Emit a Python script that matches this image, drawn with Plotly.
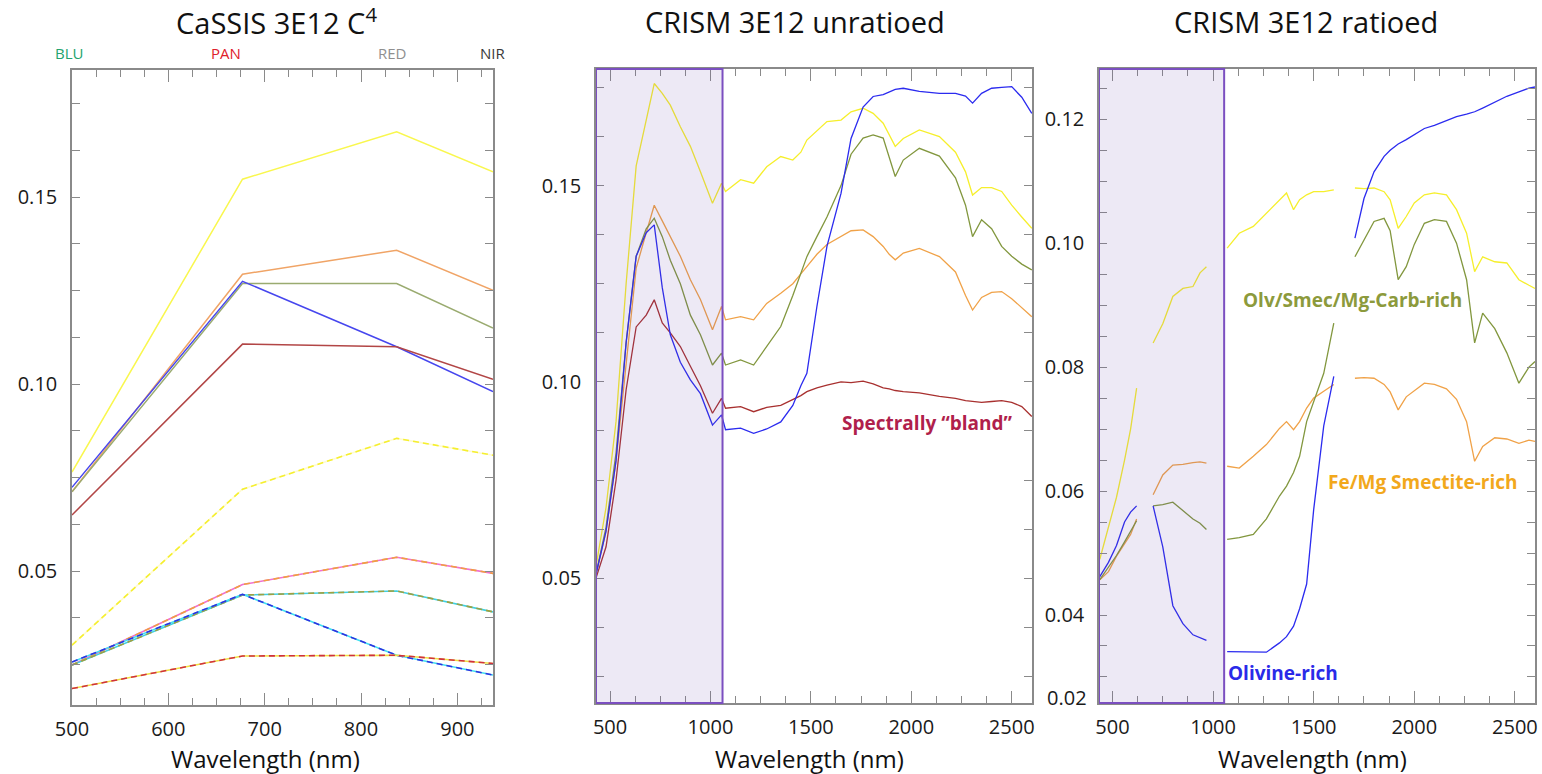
import plotly.graph_objects as go

# ---------------- Left panel: CaSSIS 4-band spectra ----------------
CASSIS_WL = [500, 677, 837, 937]
BAND_LABELS = ["BLU", "PAN", "RED", "NIR"]
BAND_LABEL_COLORS = ["#23a36e", "#e0202a", "#8f8f8f", "#3a3a3a"]
BAND_LABEL_PX = [69, 226, 392, 493]

C_YEL = [0.0765, 0.1548, 0.1675, 0.1568]
C_ORA = [0.0712, 0.1294, 0.1358, 0.1251]
C_OLV = [0.0712, 0.1269, 0.1269, 0.1150]
C_BLU = [0.0724, 0.1275, 0.1100, 0.0980]
C_RED = [0.0650, 0.1107, 0.1100, 0.1013]

D_YEL = [0.0302, 0.0719, 0.0855, 0.0810]
D_ORA = [0.0249, 0.0464, 0.0537, 0.0494]
D_OLV = [0.0249, 0.0436, 0.0447, 0.0391]
D_BLU = [0.0257, 0.0438, 0.0275, 0.0222]
D_RED = [0.0186, 0.0273, 0.0275, 0.0253]

# ---------------- Middle panel: CRISM unratioed ----------------
W_MID = [430, 480, 530, 580, 630, 680, 720, 760, 800, 850,
         900, 950, 1010, 1055, 1075, 1150, 1215, 1280, 1350, 1410,
         1450, 1480, 1530, 1580, 1650, 1700, 1760, 1810, 1860, 1890,
         1920, 1960, 2040, 2140, 2220, 2270, 2305, 2350, 2400, 2450,
         2500, 2550, 2600]
U_YEL = [0.053, 0.068, 0.090, 0.125, 0.155, 0.167, 0.176, 0.1735, 0.1705, 0.165,
         0.160, 0.1535, 0.1455, 0.1506, 0.1485, 0.1515, 0.1506, 0.1548, 0.1574, 0.1565,
         0.1585, 0.1616, 0.1640, 0.1663, 0.1667, 0.1688, 0.1697, 0.1684, 0.1659, 0.1630,
         0.1600, 0.1620, 0.1642, 0.1625, 0.1585, 0.1535, 0.1476, 0.1495, 0.1495, 0.1485,
         0.1450, 0.1420, 0.1391]
U_ORA = [0.051, 0.062, 0.080, 0.105, 0.129, 0.138, 0.145, 0.141, 0.137, 0.132,
         0.126, 0.121, 0.1133, 0.1192, 0.1158, 0.1166, 0.1158, 0.1200, 0.1226, 0.1250,
         0.1275, 0.1294, 0.1325, 0.1350, 0.1370, 0.1385, 0.1387, 0.1370, 0.1345, 0.1325,
         0.1311, 0.1328, 0.1340, 0.1319, 0.1280, 0.1220, 0.1183, 0.1215, 0.1228, 0.1230,
         0.1212, 0.1190, 0.1166]
U_OLV = [0.051, 0.063, 0.082, 0.110, 0.132, 0.139, 0.1417, 0.137, 0.131, 0.125,
         0.117, 0.112, 0.1043, 0.1073, 0.1043, 0.1056, 0.1043, 0.1090, 0.1141, 0.1220,
         0.1275, 0.1319, 0.1370, 0.1420, 0.1500, 0.1580, 0.1621, 0.1629, 0.1621, 0.1570,
         0.1523, 0.1565, 0.1595, 0.1575, 0.1520, 0.1450, 0.1370, 0.1413, 0.1390, 0.1345,
         0.1320, 0.1300, 0.1285]
U_BLU = [0.051, 0.062, 0.080, 0.110, 0.132, 0.138, 0.140, 0.124, 0.112, 0.105,
         0.1005, 0.097, 0.0890, 0.0916, 0.0878, 0.0882, 0.0869, 0.0880, 0.0898, 0.0940,
         0.0990, 0.1022, 0.1192, 0.1345, 0.1480, 0.1620, 0.1700, 0.1727, 0.1732, 0.1738,
         0.1745, 0.1748, 0.1740, 0.1735, 0.1735, 0.1728, 0.1710, 0.1735, 0.1748, 0.1750,
         0.1752, 0.1725, 0.1684]
U_RED = [0.050, 0.058, 0.075, 0.098, 0.114, 0.117, 0.1209, 0.1150, 0.1125, 0.109,
         0.104, 0.099, 0.0920, 0.0958, 0.0933, 0.0937, 0.0924, 0.0935, 0.0940, 0.0954,
         0.0965, 0.0975, 0.0985, 0.0992, 0.1000, 0.0998, 0.1002, 0.0995, 0.0985, 0.0982,
         0.0978, 0.0975, 0.0972, 0.0963, 0.0958, 0.0952, 0.0950, 0.0948, 0.0950, 0.0952,
         0.0948, 0.0937, 0.0912]

# ---------------- Right panel: CRISM ratioed (segmented) ----------------
W_RAT = [437, 480, 520, 560, 590, 620, 660,
         702, 750, 800, 850, 900, 935, 967, 1020,
         1070, 1130, 1200, 1265, 1330, 1365, 1400, 1430, 1465, 1500, 1550, 1600, 1650,
         1705, 1750, 1800, 1850, 1880, 1920, 1960, 2000, 2050, 2100,
         2160, 2210, 2260, 2300, 2340, 2400, 2460, 2520, 2570, 2600]
R_YEL = [0.049, 0.054, 0.059, 0.065, 0.070, 0.0766, None,
         0.0839, 0.0870, 0.0914, 0.0927, 0.0930, 0.0952, 0.0962, None,
         0.0992, 0.1016, 0.1027, 0.1048, 0.1070, 0.1081, 0.1054, 0.1070, 0.1078, 0.1083, 0.1083, 0.1086, None,
         0.1089, 0.1088, 0.1089, 0.1083, 0.1070, 0.1024, 0.1043, 0.1065, 0.1078, 0.1081,
         0.1078, 0.1054, 0.1016, 0.0954, 0.0978, 0.0970, 0.0968, 0.0941, 0.0932, 0.0927]
R_BLU = [0.0462, 0.0485, 0.0512, 0.0550, 0.0566, 0.0576, None,
         0.0576, 0.0510, 0.0415, 0.0386, 0.0368, 0.0363, 0.0359, None,
         0.0341, 0.0341, 0.0340, 0.0340, 0.0355, 0.0365, 0.0382, 0.0410, 0.0450, 0.0570, 0.0705, 0.0785, None,
         0.1008, 0.1072, 0.1115, 0.1140, 0.1150, 0.1160, 0.1167, 0.1175, 0.1185, 0.1190,
         0.1198, 0.1204, 0.1208, 0.1212, 0.1218, 0.1228, 0.1237, 0.1244, 0.1250, 0.1252]
R_OLV = [0.0457, 0.0478, 0.0496, 0.0518, 0.0535, 0.0552, None,
         0.0576, 0.0578, 0.0582, 0.0568, 0.0555, 0.0548, 0.0538, None,
         0.0522, 0.0525, 0.0530, 0.0555, 0.0592, 0.0608, 0.0630, 0.0656, 0.0712, 0.0745, 0.0790, 0.0871, None,
         0.0978, 0.1005, 0.1035, 0.1040, 0.1020, 0.0941, 0.0962, 0.0998, 0.1032, 0.1038,
         0.1035, 0.1000, 0.0941, 0.0839, 0.0887, 0.0862, 0.0823, 0.0774, 0.0800, 0.0809]
R_ORA = [0.0457, 0.0470, 0.0495, 0.0515, 0.0530, 0.0555, None,
         0.0594, 0.0626, 0.0642, 0.0643, 0.0646, 0.0647, 0.0645, None,
         0.0640, 0.0637, 0.0656, 0.0675, 0.0701, 0.0712, 0.0699, 0.0712, 0.0734, 0.0750, 0.0761, 0.0772, None,
         0.0782, 0.0783, 0.0782, 0.0772, 0.0760, 0.0731, 0.0752, 0.0762, 0.0774, 0.0772,
         0.0765, 0.0748, 0.0712, 0.0648, 0.0672, 0.0686, 0.0684, 0.0677, 0.0682, 0.0680]

SHADE_MID = (430, 1060)
SHADE_RAT = (433, 1055)

COL_YEL = "#f6ef2c"
COL_ORA = "#f0a248"
COL_OLV = "#82973e"
COL_BLU = "#2b2bef"
COL_RED = "#a8302f"

FONT = "Open Sans"
W, H = 1542, 774

fig = go.Figure()

# Left panel
for vals, col in [(C_YEL, "#f9f74e"), (C_ORA, "#f0a466"), (C_OLV, "#9aab70"),
                  (C_BLU, "#4646ee"), (C_RED, "#b24646")]:
    fig.add_trace(go.Scatter(x=CASSIS_WL, y=vals, mode="lines", xaxis="x", yaxis="y",
                             line=dict(color=col, width=1.5), showlegend=False))
for vals, base, dashcol in [(D_YEL, "#fffbd0", "#f5ef30"), (D_ORA, "#f070d0", "#f0a040"),
                            (D_OLV, "#40d0e0", "#a0a040"), (D_BLU, "#40e0f0", "#3030e0"),
                            (D_RED, "#f0e040", "#d03040")]:
    fig.add_trace(go.Scatter(x=CASSIS_WL, y=vals, mode="lines", xaxis="x", yaxis="y",
                             line=dict(color=base, width=1.6), showlegend=False))
    fig.add_trace(go.Scatter(x=CASSIS_WL, y=vals, mode="lines", xaxis="x", yaxis="y",
                             line=dict(color=dashcol, width=1.6, dash="6px,4px"), showlegend=False))

# Middle panel
for vals, col in [(U_RED, COL_RED), (U_ORA, COL_ORA), (U_OLV, COL_OLV),
                  (U_YEL, COL_YEL), (U_BLU, COL_BLU)]:
    fig.add_trace(go.Scatter(x=W_MID, y=vals, mode="lines", xaxis="x2", yaxis="y2",
                             line=dict(color=col, width=1.3), showlegend=False))

# Right panel
for vals, col in [(R_YEL, COL_YEL), (R_ORA, COL_ORA), (R_OLV, COL_OLV), (R_BLU, COL_BLU)]:
    fig.add_trace(go.Scatter(x=W_RAT, y=vals, mode="lines", xaxis="x3", yaxis="y3",
                             connectgaps=False,
                             line=dict(color=col, width=1.3), showlegend=False))

AX = "#8a8a8a"
TICKFONT = dict(family=FONT, size=20, color="#1a1a1a")


def xax(dom, rng, dtick, mdtick, anchor):
    return dict(domain=dom, range=rng, anchor=anchor, dtick=dtick, tick0=0, automargin=False,
                showline=True, linecolor=AX, linewidth=1.5, mirror="ticks",
                ticks="inside", ticklen=12, tickwidth=1.2, tickcolor=AX,
                minor=dict(ticks="inside", ticklen=7, dtick=mdtick, tick0=0, tickcolor=AX, tickwidth=1.2),
                showgrid=False, zeroline=False, tickfont=TICKFONT, ticklabelstandoff=5)


def yax(dom, rng, dtick, mdtick, anchor):
    return dict(domain=dom, range=rng, anchor=anchor, dtick=dtick, tick0=0, tickformat=".2f",
                automargin=False,
                showline=True, linecolor=AX, linewidth=1.5, mirror="ticks",
                ticks="inside", ticklen=8, tickwidth=1.2, tickcolor=AX,
                minor=dict(ticks="inside", ticklen=8, dtick=mdtick, tick0=0, tickcolor=AX, tickwidth=1.2),
                showgrid=False, zeroline=False, tickfont=TICKFONT, ticklabelstandoff=9)


fig.update_layout(
    width=W, height=H, margin=dict(l=0, r=0, t=0, b=0, autoexpand=False),
    paper_bgcolor="white", plot_bgcolor="white",
    font=dict(family=FONT),
    xaxis=xax([72 / W, 493 / W], [500, 937], 100, 25, "y"),
    yaxis=yax([1 - 705 / H, 1 - 70 / H], [0.0142, 0.184], 0.05, 0.0125, "x"),
    xaxis2=xax([596 / W, 1032 / W], [430, 2601], 500, 125, "y2"),
    yaxis2=yax([1 - 703 / H, 1 - 69 / H], [0.0182, 0.1797], 0.05, 0.0125, "x2"),
    xaxis3=xax([1099 / W, 1535 / W], [433, 2600], 500, 125, "y3"),
    yaxis3=yax([1 - 703 / H, 1 - 69 / H], [0.0258, 0.1281], 0.02, 0.005, "x3"),
)

PURPLE = "#7b4fc0"
for xr, xref, yref in [(SHADE_MID, "x2", "y2 domain"), (SHADE_RAT, "x3", "y3 domain")]:
    fig.add_shape(type="rect", xref=xref, yref=yref, x0=xr[0], x1=xr[1], y0=0, y1=1,
                  fillcolor="rgba(110,70,170,0.12)", line=dict(color=PURPLE, width=2),
                  layer="above")

ann = []
TITLE_FONT = dict(family=FONT, size=29, color="#111111")
ann.append(dict(text="CaSSIS 3E12 C<sup>4</sup>", x=276 / W, y=1 - 21 / H, font=TITLE_FONT))
ann.append(dict(text="CRISM 3E12 unratioed", x=795 / W, y=1 - 21 / H, font=TITLE_FONT))
ann.append(dict(text="CRISM 3E12 ratioed", x=1306 / W, y=1 - 21 / H, font=TITLE_FONT))
for lab, col, px in zip(BAND_LABELS, BAND_LABEL_COLORS, BAND_LABEL_PX):
    ann.append(dict(text=lab, x=px / W, y=1 - 53 / H, font=dict(family=FONT, size=15, color=col)))
XT_FONT = dict(family=FONT, size=24, color="#111111")
for cx in [265, 809, 1312]:
    ann.append(dict(text="Wavelength (nm)", x=cx / W, y=1 - 758 / H, font=XT_FONT))
ann.append(dict(text="0.02", x=1089 / W, y=1 - 697 / H, xanchor="right", font=TICKFONT))
for a in ann:
    a.setdefault("xanchor", "center")
    a.update(xref="paper", yref="paper", yanchor="middle", showarrow=False)
    fig.add_annotation(**a)

LBL = dict(family=FONT, size=19, weight="bold")
fig.add_annotation(text="Spectrally “bland”", x=2079, y=0.0896, xref="x2", yref="y2",
                   showarrow=False, font=dict(LBL, color="#b01f4c"))
fig.add_annotation(text="Olv/Smec/Mg-Carb-rich", x=1694, y=0.0909, xref="x3", yref="y3",
                   showarrow=False, font=dict(LBL, color="#8c9a3c"))
fig.add_annotation(text="Fe/Mg Smectite-rich", x=2043, y=0.0615, xref="x3", yref="y3",
                   showarrow=False, font=dict(LBL, color="#f2a81c"))
fig.add_annotation(text="Olivine-rich", x=1346, y=0.0307, xref="x3", yref="y3",
                   showarrow=False, font=dict(LBL, color="#2a2ae8"))

fig.write_html("out.html", config={"displayModeBar": False},
               post_script="document.body.style.margin='0';document.body.style.padding='0';")
